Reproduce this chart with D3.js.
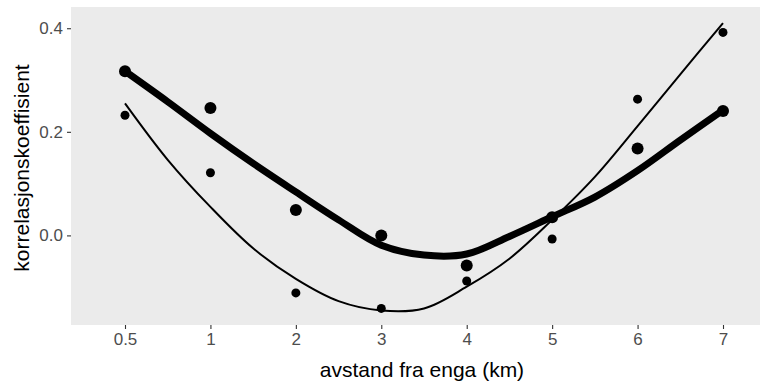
<!DOCTYPE html>
<html>
<head>
<meta charset="utf-8">
<script src="https://cdn.jsdelivr.net/npm/d3@7"></script>
<style>
  body { margin: 0; background: #fff; }
  svg { display: block; font-family: "Liberation Sans", Arial, sans-serif; }
</style>
</head>
<body>
<svg id="chart" width="760" height="385"></svg>
<script>
// distance categories (discrete axis)
const categories = ['0.5', '1', '2', '3', '4', '5', '6', '7'];

// large points + thick smoother
const bigPoints = [0.317, 0.246, 0.049, 0.0, -0.058, 0.035, 0.168, 0.240];
// small points + thin smoother
const smallPoints = [0.232, 0.121, -0.111, -0.141, -0.088, -0.007, 0.263, 0.392];

// smoother at half category steps
const fitIndex = [0, 0.5, 1, 1.5, 2, 2.5, 3, 3.5, 4, 4.5, 5, 5.5, 6, 6.5, 7];
const thickFit = [0.317, 0.258, 0.197, 0.139, 0.084, 0.030, -0.019, -0.038, -0.036, -0.002, 0.036, 0.074, 0.125, 0.184, 0.242];
const thinFit = [0.255, 0.146, 0.055, -0.025, -0.084, -0.127, -0.145, -0.141, -0.099, -0.045, 0.030, 0.113, 0.211, 0.311, 0.410];

const yTicks = [0.0, 0.2, 0.4];

const svg = d3.select('#chart');
const panel = { left: 71, right: 775, top: 7, bottom: 325 };

const x = d3.scalePoint().domain(categories).range([125, 723]);
const xFit = d3.scaleLinear().domain([0, categories.length - 1]).range(x.range());
const y = d3.scaleLinear().domain([-0.173, 0.441]).range([panel.bottom, panel.top]);

// grey panel, no grid
svg.append('rect')
  .attr('x', panel.left)
  .attr('y', panel.top)
  .attr('width', panel.right - panel.left)
  .attr('height', panel.bottom - panel.top)
  .attr('fill', '#ebebeb');

// axes
const xAxis = svg.append('g')
  .attr('transform', 'translate(0,' + panel.bottom + ')')
  .call(d3.axisBottom(x).tickSizeInner(4).tickSizeOuter(0).tickPadding(4));

const yAxis = svg.append('g')
  .attr('transform', 'translate(' + panel.left + ',0)')
  .call(d3.axisLeft(y).tickValues(yTicks).tickFormat(d3.format('.1f'))
    .tickSizeInner(4).tickSizeOuter(0).tickPadding(4));

[xAxis, yAxis].forEach(g => {
  g.select('.domain').remove();
  g.selectAll('.tick line').attr('stroke', '#333333').attr('stroke-width', 1.1);
  g.selectAll('.tick text').attr('fill', '#4d4d4d').style('font-size', '17px');
});

// axis titles
svg.append('text')
  .attr('x', 422)
  .attr('y', 377)
  .attr('text-anchor', 'middle')
  .style('font-size', '21px')
  .text('avstand fra enga (km)');

svg.append('text')
  .attr('transform', 'translate(29,168) rotate(-90)')
  .attr('text-anchor', 'middle')
  .style('font-size', '21px')
  .text('korrelasjonskoeffisient');

// smoothers
const line = d3.line()
  .x((d, i) => xFit(fitIndex[i]))
  .y(d => y(d))
  .curve(d3.curveCatmullRom.alpha(0.5));

svg.append('path')
  .attr('d', line(thinFit))
  .attr('fill', 'none')
  .attr('stroke', 'black')
  .attr('stroke-width', 2);

svg.append('path')
  .attr('d', line(thickFit))
  .attr('fill', 'none')
  .attr('stroke', 'black')
  .attr('stroke-width', 7)
  .attr('stroke-linecap', 'round');

// points
svg.selectAll('.small')
  .data(smallPoints)
  .enter()
  .append('circle')
  .attr('cx', (d, i) => x(categories[i]))
  .attr('cy', d => y(d))
  .attr('r', 4.5)
  .attr('fill', 'black');

svg.selectAll('.big')
  .data(bigPoints)
  .enter()
  .append('circle')
  .attr('cx', (d, i) => x(categories[i]))
  .attr('cy', d => y(d))
  .attr('r', 6)
  .attr('fill', 'black');
</script>
</body>
</html>
